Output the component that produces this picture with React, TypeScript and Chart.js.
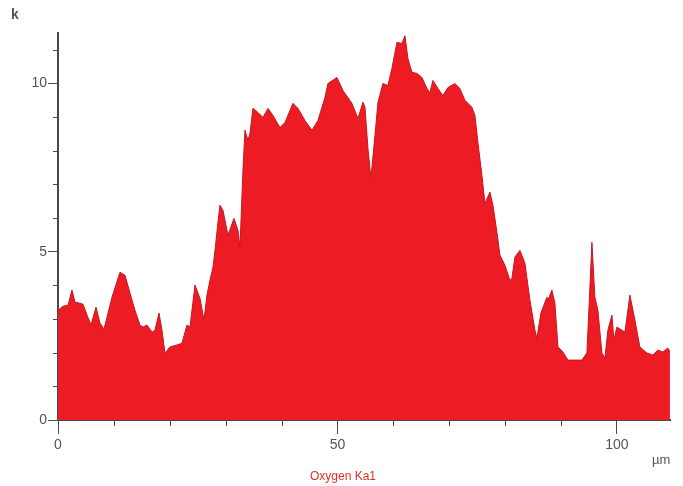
import React, { useEffect, useRef } from "react";
import { Chart, registerables } from "chart.js";

Chart.register(...registerables);

// Position along the line scan (µm)
const positions: number[] = [
  0, 0.89, 1.79, 2.5, 3.04, 3.94, 4.47, 5.19, 5.9, 6.8, 7.51, 8.23, 9.66, 11.09, 11.99,
  12.88, 13.77, 14.67, 15.21, 15.92, 16.82, 17.35, 18.07, 18.6, 19.14, 20.04, 21.29, 22.18,
  23.08, 23.61, 24.51, 25.4, 26.12, 26.65, 27.19, 27.73, 28.09, 28.62, 28.98, 29.52, 30.41,
  31.48, 32.2, 32.56, 33.09, 33.45, 33.99, 34.35, 34.88, 35.78, 36.67, 37.57, 38.46, 39.71,
  40.61, 42.04, 42.93, 44.19, 45.44, 46.51, 47.76, 48.3, 49.91, 50.98, 52.59, 53.67, 54.56,
  54.92, 55.46, 55.99, 56.71, 57.25, 58.14, 59.03, 59.75, 60.64, 61.54, 62.08, 62.61, 63.33,
  64.22, 65.12, 66.01, 66.55, 67.08, 67.98, 68.87, 69.77, 71.02, 71.91, 72.81, 74.06, 74.6,
  75.13, 75.85, 76.39, 77.28, 77.82, 78.53, 79.07, 79.96, 80.86, 81.22, 81.75, 82.65, 83.54,
  84.44, 85.33, 85.69, 86.4, 87.48, 87.66, 88.37, 88.91, 89.45, 90.34, 91.23, 92.13, 93.74,
  94.63, 95.17, 95.53, 96.06, 96.6, 97.32, 97.85, 98.39, 99.11, 99.46, 100, 100.89, 101.43,
  102.33, 103.22, 104.11, 105.37, 106.44, 107.33, 108.23, 109.12, 109.48,
];

// Oxygen Ka1 counts (k)
const oxygenCounts: number[] = [
  3.26, 3.38, 3.41, 3.86, 3.5, 3.47, 3.44, 3.12, 2.82, 3.35, 2.88, 2.7, 3.65, 4.39, 4.3,
  3.77, 3.26, 2.82, 2.76, 2.82, 2.61, 2.67, 3.18, 2.67, 1.99, 2.17, 2.23, 2.28,
  2.82, 2.76, 4.01, 3.62, 2.97, 3.71, 4.15, 4.54, 5.04, 5.88, 6.38, 6.23, 5.49,
  5.99, 5.64, 5.13, 7.42, 8.61, 8.31, 8.52, 9.26, 9.14, 8.99, 9.26, 9.05, 8.69,
  8.84, 9.41, 9.26, 8.9, 8.61, 8.9, 9.58, 10.0, 10.18, 9.79, 9.41, 8.96, 9.44,
  9.3, 8.07, 7.18, 8.46, 9.44, 10.0, 9.94, 10.45, 11.22, 11.19, 11.42, 10.74, 10.33,
  10.3, 10.18, 9.85, 9.73, 10.09, 9.85, 9.64, 9.88, 10.0, 9.85, 9.5, 9.29, 9.05,
  8.25, 7.27, 6.44, 6.77, 6.38, 5.58, 4.9, 4.6, 4.15, 4.21, 4.84, 5.04, 4.66,
  3.56, 2.67, 2.43, 3.18, 3.65, 3.56, 3.86, 3.47, 2.17, 2.02, 1.78, 1.78, 1.78,
  1.99, 3.95, 5.28, 3.65, 3.26, 1.99, 1.84, 2.67, 3.12, 2.37, 2.76, 2.67, 2.61,
  3.71, 2.97, 2.17, 1.99, 1.93, 2.08, 2.02, 2.14, 2.02,
];

const xTickValues: number[] = [0, 10, 20, 30, 40, 50, 60, 70, 80, 90, 100];
const yTickValues: number[] = [0, 1, 2, 3, 4, 5, 6, 7, 8, 9, 10, 11];
const xLabelled: number[] = [0, 50, 100];
const yLabelled: number[] = [0, 5, 10];

const seriesLabel = "Oxygen Ka1";
const xUnit = "µm";
const yUnit = "k";

const AXIS = "#4a4a4a";
const TEXT = "#555555";
const FONT = "'Liberation Sans', Arial, sans-serif";

const decorPlugin = {
  id: "decor",
  afterDraw(chart: any) {
    const { ctx, chartArea, scales } = chart;
    const xs = scales.x;
    const ys = scales.y;
    ctx.save();
    ctx.strokeStyle = AXIS;
    ctx.lineWidth = 1;
    ctx.beginPath();
    for (const v of yTickValues) {
      if (yLabelled.includes(v)) continue;
      const py = Math.round(ys.getPixelForValue(v)) + 0.5;
      ctx.moveTo(chartArea.left - 5, py);
      ctx.lineTo(chartArea.left, py);
    }
    for (const v of xTickValues) {
      if (xLabelled.includes(v)) continue;
      const px = Math.round(xs.getPixelForValue(v)) + 0.5;
      ctx.moveTo(px, chartArea.bottom);
      ctx.lineTo(px, chartArea.bottom + 6);
    }
    ctx.stroke();

    ctx.fillStyle = TEXT;
    ctx.font = `bold 14px ${FONT}`;
    ctx.textAlign = "left";
    ctx.textBaseline = "middle";
    ctx.fillText(yUnit, 11, 15);

    ctx.font = `13px ${FONT}`;
    ctx.fillText(xUnit, 652, 460);

    ctx.fillStyle = "#e0302a";
    ctx.font = `12px ${FONT}`;
    ctx.textAlign = "center";
    ctx.fillText(seriesLabel, 343, 477);
    ctx.restore();
  },
};

export default function App() {
  const canvasRef = useRef<HTMLCanvasElement | null>(null);

  useEffect(() => {
    document.body.style.margin = "0";
    const canvas = canvasRef.current;
    if (!canvas) return;
    const data = positions.map((x, i) => ({ x, y: oxygenCounts[i] }));
    const chart = new Chart(canvas, {
      type: "line",
      data: {
        datasets: [
          {
            label: seriesLabel,
            data,
            fill: "origin",
            backgroundColor: "#ed1c24",
            borderColor: "#c8161d",
            borderWidth: 1,
            pointRadius: 0,
            tension: 0,
          },
        ],
      },
      options: {
        animation: false,
        responsive: false,
        maintainAspectRatio: false,
        layout: { padding: { left: 0, top: 33, right: 13, bottom: 0 } },
        plugins: {
          legend: { display: false },
          tooltip: { enabled: false },
        },
        scales: {
          x: {
            type: "linear",
            min: 0,
            max: 109.5,
            afterBuildTicks: (s: any) => {
              s.ticks = xLabelled.map((v) => ({ value: v }));
            },
            afterFit: (s: any) => {
              s.height = 66;
            },
            border: { display: true, color: AXIS, width: 2 },
            grid: {
              drawOnChartArea: false,
              drawTicks: true,
              tickLength: 14,
              tickWidth: 1,
              tickColor: AXIS,
            },
            ticks: {
              padding: 3,
              maxRotation: 0,
              autoSkip: false,
              color: TEXT,
              font: { family: FONT, size: 14 },
              callback: (v: any) => String(v),
            },
          },
          y: {
            type: "linear",
            min: 0,
            max: 11.5,
            afterBuildTicks: (s: any) => {
              s.ticks = yLabelled.map((v) => ({ value: v }));
            },
            afterFit: (s: any) => {
              s.width = 58;
            },
            border: { display: true, color: AXIS, width: 2 },
            grid: {
              drawOnChartArea: false,
              drawTicks: true,
              tickLength: 10,
              tickWidth: 1,
              tickColor: AXIS,
            },
            ticks: {
              padding: 1,
              autoSkip: false,
              color: TEXT,
              font: { family: FONT, size: 14 },
              callback: (v: any) => String(v),
            },
          },
        },
      },
      plugins: [decorPlugin],
    });
    return () => chart.destroy();
  }, []);

  return (
    <div style={{ position: "absolute", left: 0, top: 0, width: 683, height: 486 }}>
      <canvas ref={canvasRef} width={683} height={486} style={{ display: "block" }} />
    </div>
  );
}
